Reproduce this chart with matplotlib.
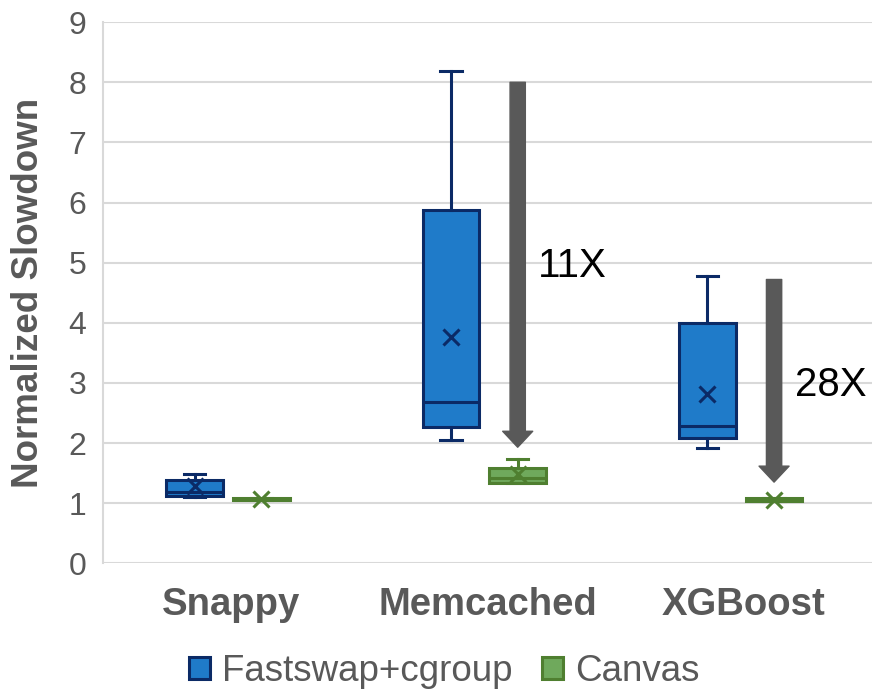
import matplotlib.pyplot as plt
import numpy as np

plt.rcParams['font.family'] = ['Liberation Sans', 'DejaVu Sans']

# ----------------- data -----------------
categories = ['Snappy', 'Memcached', 'XGBoost']
series = ['Fastswap+cgroup', 'Canvas']

# whisker low, q1, median, q3, whisker high, mean
fastswap_whislo = [1.10, 2.05, 1.92]
fastswap_q1 = [1.12, 2.27, 2.08]
fastswap_med = [1.19, 2.68, 2.28]
fastswap_q3 = [1.38, 5.87, 4.00]
fastswap_whishi = [1.48, 8.18, 4.77]
fastswap_mean = [1.28, 3.77, 2.82]

canvas_whislo = [1.05, 1.33, 1.04]
canvas_q1 = [1.05, 1.33, 1.04]
canvas_med = [1.07, 1.42, 1.07]
canvas_q3 = [1.09, 1.58, 1.09]
canvas_whishi = [1.09, 1.73, 1.09]
canvas_mean = [1.07, 1.48, 1.06]

# arrows: start, end (y) and labels
arrow_top = [None, 8.0, 4.72]
arrow_bottom = [None, 1.93, 1.35]
arrow_labels = [None, '11X', '28X']
label_y = [None, 4.95, 2.97]

# ----------------- styles -----------------
fs_fill, fs_edge = '#1f7bc9', '#0b2a66'
cv_fill, cv_edge = '#6fa95c', '#4f7f30'
arrow_color = '#595959'
text_gray = '#595959'

fig = plt.figure(figsize=(8.72, 6.92), dpi=100)
ax = fig.add_axes([0.118, 0.186, 0.882, 0.782])

x = np.arange(len(categories))
fs_off = -0.142
cv_off = 0.118
width = 0.22


def make_stats(lo, q1, med, q3, hi, mean):
    out = []
    for i in range(len(lo)):
        out.append(dict(whislo=lo[i], q1=q1[i], med=med[i], q3=q3[i],
                        whishi=hi[i], mean=mean[i], fliers=[]))
    return out


def draw(stats, pos, fill, edge):
    ax.bxp(stats, positions=pos, widths=width, patch_artist=True,
           showmeans=True, showfliers=False,
           boxprops=dict(facecolor=fill, edgecolor=edge, linewidth=2.2),
           medianprops=dict(color=edge, linewidth=2.2),
           whiskerprops=dict(color=edge, linewidth=2.2),
           capprops=dict(color=edge, linewidth=2.2),
           meanprops=dict(marker='x', markeredgecolor=edge, markersize=11,
                          markeredgewidth=2.2),
           capwidths=width * 0.38)


draw(make_stats(fastswap_whislo, fastswap_q1, fastswap_med, fastswap_q3,
                fastswap_whishi, fastswap_mean), x + fs_off, fs_fill, fs_edge)
draw(make_stats(canvas_whislo, canvas_q1, canvas_med, canvas_q3,
                canvas_whishi, canvas_mean), x + cv_off, cv_fill, cv_edge)

# arrows showing the reduction
for i in range(len(categories)):
    if arrow_top[i] is None:
        continue
    ax.annotate('', xy=(x[i] + cv_off, arrow_bottom[i]),
                xytext=(x[i] + cv_off, arrow_top[i]),
                arrowprops=dict(arrowstyle='simple,head_width=2.16,head_length=1.15,tail_width=1.1',
                                color=arrow_color, shrinkA=0, shrinkB=0,
                                mutation_scale=10))
    ax.text(x[i] + cv_off + 0.08, label_y[i], arrow_labels[i],
            fontsize=29, color='black', va='center', ha='left')

ax.set_xlim(-0.5, 2.5)
ax.set_ylim(0, 9)
ax.set_yticks(range(0, 10))
ax.set_xticks(x)
ax.set_xticklabels(categories, fontsize=27.5, fontweight='bold', color=text_gray)
ax.tick_params(axis='y', labelsize=23, labelcolor=text_gray, length=0, pad=12)
ax.tick_params(axis='x', length=0, pad=17)
ax.yaxis.grid(True, color='#d9d9d9', linewidth=1.5)
ax.set_axisbelow(True)
for s in ['top', 'right', 'bottom']:
    ax.spines[s].set_visible(False)
ax.spines['left'].set_color('#d9d9d9')
ax.spines['left'].set_linewidth(1.5)
ax.set_ylabel('Normalized Slowdown', fontsize=26.5, fontweight='bold',
              color=text_gray)
ax.yaxis.set_label_coords(-0.074, 0.5)

handles = [plt.Rectangle((0, 0), 1, 1, facecolor=fs_fill, edgecolor=fs_edge, linewidth=2.2),
           plt.Rectangle((0, 0), 1, 1, facecolor=cv_fill, edgecolor=cv_edge, linewidth=2.2)]
leg = fig.legend(handles, series, loc='lower center', bbox_to_anchor=(0.51, -0.043),
                 ncol=2, frameon=False, fontsize=26.5, handlelength=0.55,
                 handleheight=0.55, handletextpad=0.35, columnspacing=0.8)
for t in leg.get_texts():
    t.set_color(text_gray)

fig.savefig('out.png', dpi=100)
